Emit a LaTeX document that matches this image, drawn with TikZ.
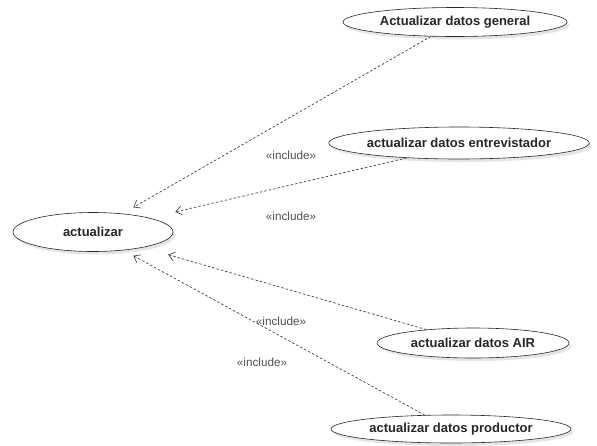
\documentclass[tikz,border=0pt]{standalone}
\usepackage{fontspec}
\setmainfont{Liberation Sans}
\usetikzlibrary{shapes.geometric,arrows.meta,shadows}
\definecolor{linegray}{HTML}{383838}
\definecolor{labgray}{HTML}{505050}
\begin{document}
\begin{tikzpicture}[x=1pt,y=-1pt,
  uc/.style={ellipse,draw=black!85,line width=0.6pt,fill=white,inner sep=0pt,
    font=\fontsize{13}{15}\selectfont\bfseries,text=black!85,
    drop shadow={shadow xshift=2.5pt,shadow yshift=-3pt,fill=black!10,opacity=1}},
  incl/.style={draw=linegray,line width=0.65pt,dash pattern=on 2.5pt off 2pt,
    -{Straight Barb[length=6pt,width=9pt,line width=0.6pt]}},
  lab/.style={font=\fontsize{11.7}{13}\selectfont,text=labgray,inner sep=0pt}]
\useasboundingbox (0,0) rectangle (597,445);
\node[uc,minimum width=224pt,minimum height=29pt] (gen) at (455,22) {Actualizar datos general};
\node[uc,minimum width=246pt,minimum height=32pt] (ent) at (459,143) {actualizar datos entrevistador};
\node[uc,minimum width=160pt,minimum height=39pt] (act) at (93,232) {actualizar};
\node[uc,minimum width=192pt,minimum height=30pt] (air) at (473,343) {actualizar datos AIR};
\node[uc,minimum width=240pt,minimum height=28pt] (pro) at (451,429) {actualizar datos productor};
\draw[incl,shorten >=12.5pt] (gen.211) -- (act.32);
\draw[incl,shorten >=26.5pt] (ent.196) -- (act.14.5);
\draw[incl,shorten >=25.7pt] (air.164.4) -- (act.343.7);
\draw[incl,shorten >=11.2pt] (pro.152.9) -- (act.329.8);
\node[lab] (l1) at (291,155) {«include»};
\node[lab] (l2) at (291,216) {«include»};
\node[lab] (l3) at (281,321) {«include»};
\node[lab] (l4) at (262,362) {«include»};
\end{tikzpicture}
\end{document}
